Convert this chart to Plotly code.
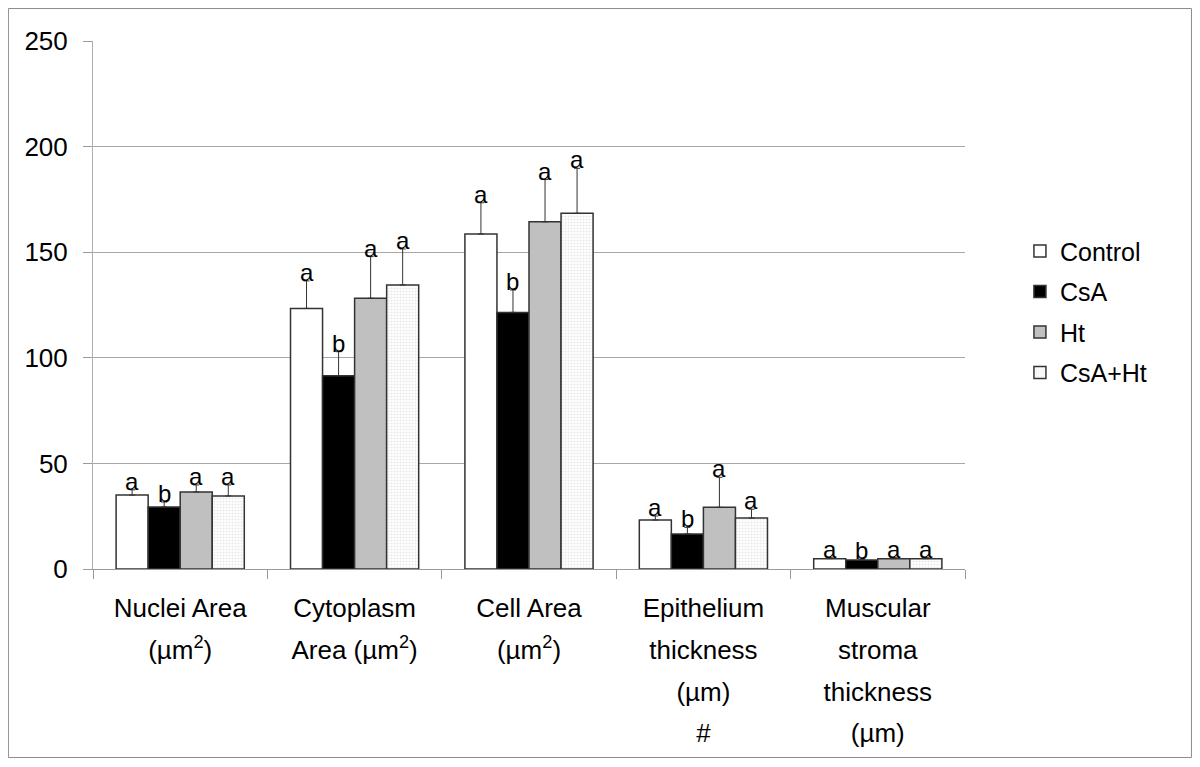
import plotly.graph_objects as go

categories = [["Nuclei Area", "(µm<sup>2</sup>)"], ["Cytoplasm", "Area (µm<sup>2</sup>)"], ["Cell Area", "(µm<sup>2</sup>)"],
              ["Epithelium", "thickness", "(µm)", "#"], ["Muscular", "stroma", "thickness", "(µm)"]]
groups = ["Control", "CsA", "Ht", "CsA+Ht"]

control = [35.0, 123.4, 158.6, 23.2, 4.9]
csa = [29.4, 91.5, 121.5, 16.6, 4.3]
ht = [36.5, 128.2, 164.4, 29.2, 4.9]
csa_ht = [34.6, 134.5, 168.4, 24.1, 4.9]

control_err = [2.5, 13.0, 14.8, 1.9, 0.5]
csa_err = [2.3, 11.4, 10.6, 3.1, 0.4]
ht_err = [3.3, 19.7, 20.0, 14.2, 0.5]
csa_ht_err = [5.2, 17.0, 21.3, 4.2, 0.5]

letters = {
    "Control": ["a", "a", "a", "a", "a"],
    "CsA": ["b", "b", "b", "b", "b"],
    "Ht": ["a", "a", "a", "a", "a"],
    "CsA+Ht": ["a", "a", "a", "a", "a"],
}

values = [control, csa, ht, csa_ht]
errors = [control_err, csa_err, ht_err, csa_ht_err]
colors = ["white", "black", "#c0c0c0", "white"]

FONT = "Liberation Sans, Arial, sans-serif"
x = list(range(len(categories)))
bargap = 0.265
bw = (1 - bargap) / 4

# wide line spacing: big tick font, smaller glyphs inside spans
ticktext = ["<br>".join('<span style="font-size:26px">%s</span>' % ln for ln in c) for c in categories]

fig = go.Figure()
for i, g in enumerate(groups):
    marker = dict(color=colors[i], line=dict(color="#333333", width=1.5))
    if g == "CsA+Ht":
        marker["pattern"] = dict(shape=".", fgcolor="#d4d4d4", bgcolor="white", size=3, solidity=0.4)
    fig.add_trace(go.Bar(
        x=x, y=values[i], name=g, marker=marker, legendgroup=g,
        error_y=dict(type="data", symmetric=False, array=errors[i], arrayminus=[0] * len(x),
                     color="#333333", thickness=1, width=3),
    ))
    for k in x:
        fig.add_annotation(
            x=k + (i - 1.5) * bw, y=values[i][k] + errors[i][k],
            text=letters[g][k], showarrow=False, yanchor="bottom", yshift=-7,
            font=dict(family=FONT, size=24, color="black"),
        )

# outer frame
fig.add_shape(type="rect", xref="paper", yref="paper", x0=-0.0970, x1=1.2597, y0=-0.3570, y1=1.0615,
              line=dict(color="#8c8c8c", width=1), layer="below")

fig.update_layout(
    width=1184, height=751,
    margin=dict(l=85, r=227, t=33, b=190),
    paper_bgcolor="white", plot_bgcolor="white",
    barmode="group", bargap=bargap, bargroupgap=0,
    font=dict(family=FONT, size=26, color="black"),
    legend=dict(x=1.063, y=0.487, yanchor="middle", xanchor="left", font=dict(size=25),
                traceorder="grouped", tracegroupgap=5, itemwidth=30),
    showlegend=True,
)
fig.update_xaxes(
    range=[-0.5, 4.5], tickvals=x, ticktext=ticktext, ticks="", showgrid=False, automargin=False,
    showline=True, linecolor="#9a9a9a", linewidth=1, ticklabelstandoff=9,
    minor=dict(tickvals=[-0.5, 0.5, 1.5, 2.5, 3.5, 4.5], ticks="outside", ticklen=9,
               tickcolor="#9a9a9a", showgrid=False),
    tickfont=dict(size=32),
)
fig.update_yaxes(
    range=[0, 250], dtick=50, showgrid=True, gridcolor="#a8a8a8", gridwidth=1, automargin=False,
    showline=True, linecolor="#b0b0b0", linewidth=1, ticks="outside", ticklen=9,
    tickcolor="#9a9a9a", zeroline=False, tickfont=dict(size=26), ticklabelstandoff=10,
)

fig.write_html("out.html")
